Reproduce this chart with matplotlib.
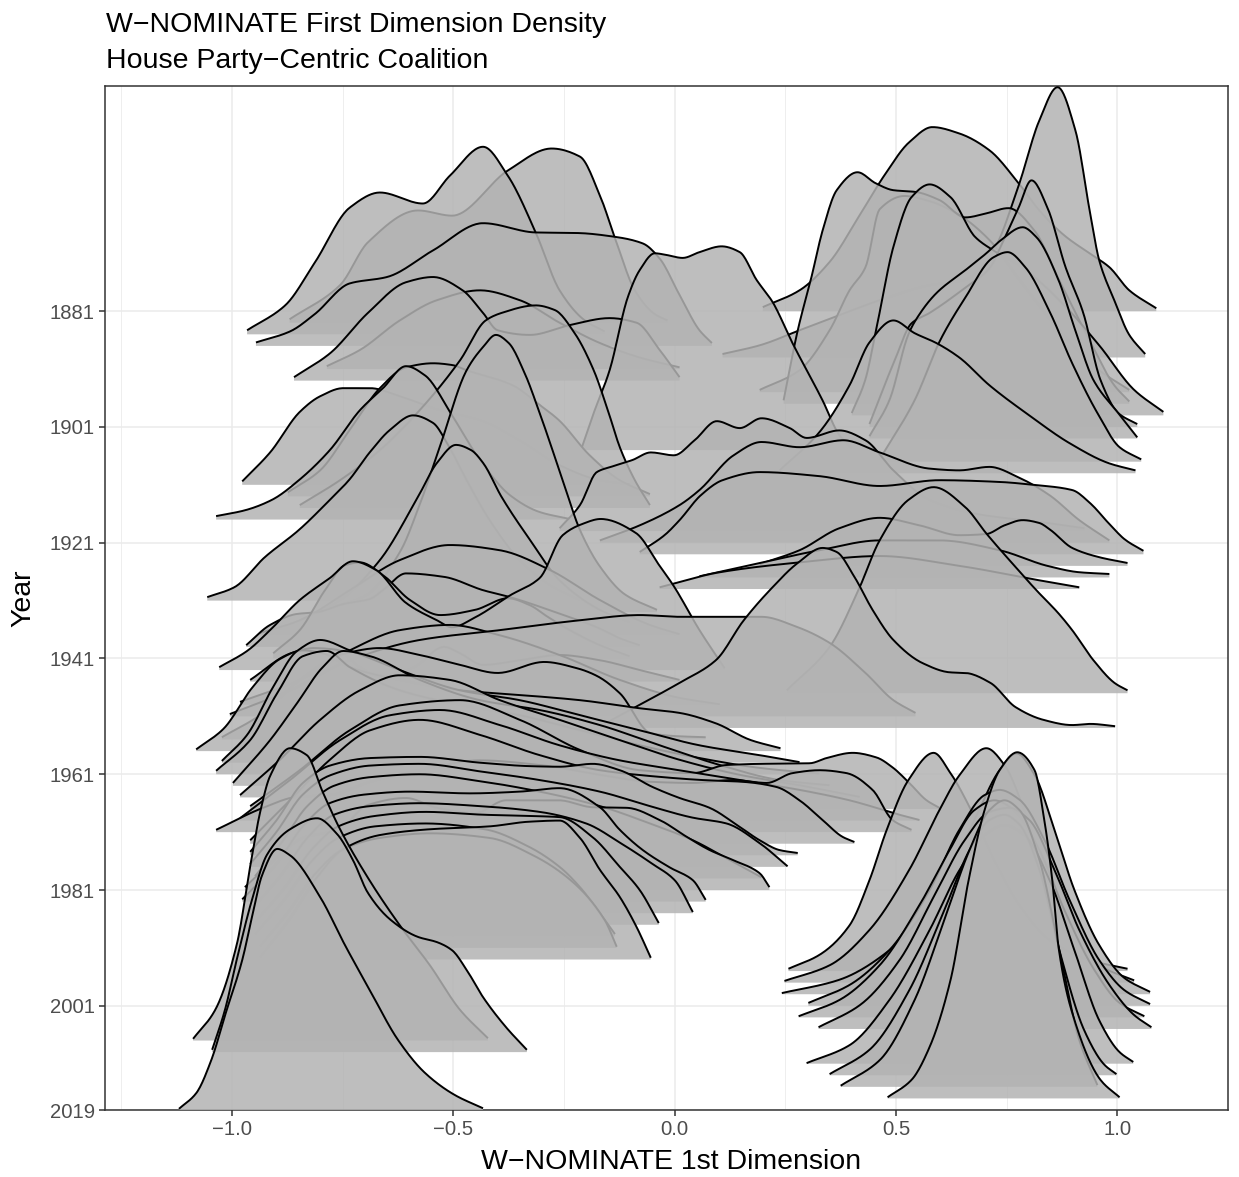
import numpy as np
import matplotlib
matplotlib.use("Agg")
import matplotlib.pyplot as plt

# one ridge per Congress (majority party), baseline = first year of the Congress
years = list(range(1881, 2020, 2))

# ridge outlines: x = W-NOMINATE score, h = height above baseline (years)
x1881 = [0.199, 0.282, 0.350, 0.418, 0.474, 0.530, 0.582, 0.643, 0.711, 0.777, 0.824, 0.880, 0.937, 0.982, 1.027, 1.088]
h1881 = [0.7, 3.6, 8.5, 16.6, 23.5, 29.2, 31.8, 30.7, 27.8, 22.1, 17.4, 13.1, 10.0, 7.6, 3.6, 0.5]
x1883 = [-0.870, -0.756, -0.693, -0.580, -0.503, -0.377, -0.278, -0.214, -0.169, -0.133, -0.090, -0.045, -0.016]
h1883 = [0.6, 6.5, 13.9, 19.4, 18.5, 26.3, 30.1, 28.7, 22.0, 14.2, 5.6, 1.5, 0.4]
x1885 = [-0.966, -0.880, -0.813, -0.734, -0.666, -0.569, -0.508, -0.433, -0.377, -0.314, -0.260, -0.203, -0.158]
h1885 = [0.7, 5.0, 12.4, 21.9, 24.5, 22.6, 27.4, 32.4, 27.4, 17.6, 7.6, 2.4, 0.5]
x1887 = [-0.946, -0.869, -0.813, -0.734, -0.650, -0.546, -0.433, -0.314, -0.219, -0.140, -0.072, -0.034, 0.011, 0.056, 0.084]
h1887 = [0.6, 2.5, 5.5, 10.8, 11.9, 16.5, 21.2, 19.6, 19.5, 18.9, 17.7, 15.1, 8.8, 2.7, 0.5]
x1889 = [0.108, 0.192, 0.282, 0.372, 0.463, 0.576, 0.655, 0.720, 0.777, 0.824, 0.865, 0.905, 0.939, 0.959, 0.993, 1.027, 1.063]
h1889 = [0.6, 2.1, 4.7, 7.3, 9.9, 12.5, 13.4, 18.5, 29.7, 41.0, 46.7, 39.3, 24.7, 16.8, 9.9, 3.9, 0.6]
x1891 = [-0.786, -0.711, -0.621, -0.537, -0.440, -0.350, -0.260, -0.169, -0.079, 0.011]
h1891 = [0.5, 3.3, 8.4, 11.9, 13.6, 11.9, 8.0, 4.5, 2.0, 0.3]
x1893 = [-0.860, -0.779, -0.693, -0.607, -0.546, -0.479, -0.433, -0.400, -0.327, -0.237, -0.147, -0.086, -0.034, 0.011]
h1893 = [0.6, 4.7, 11.7, 17.0, 17.9, 15.6, 11.7, 8.7, 7.9, 9.6, 10.8, 10.0, 5.3, 0.6]
x1895 = [0.192, 0.282, 0.350, 0.395, 0.431, 0.463, 0.519, 0.576, 0.643, 0.711, 0.779, 0.869, 0.959, 1.027]
h1895 = [0.4, 3.8, 10.7, 17.6, 21.6, 31.6, 33.9, 33.0, 30.6, 26.3, 19.4, 10.7, 3.8, 0.4]
x1897 = [0.246, 0.278, 0.309, 0.334, 0.366, 0.413, 0.454, 0.494, 0.544, 0.598, 0.657, 0.704, 0.754, 0.813, 0.869, 0.937, 0.993, 1.027]
h1897 = [0.6, 12.7, 21.9, 29.9, 36.9, 40.0, 38.1, 36.9, 36.6, 35.2, 32.2, 32.9, 33.8, 29.9, 21.3, 11.0, 3.2, 0.4]
x1899 = [0.400, 0.430, 0.458, 0.494, 0.535, 0.576, 0.623, 0.679, 0.720, 0.779, 0.869, 0.959, 1.038, 1.104]
h1899 = [0.4, 6.0, 15.9, 29.1, 37.7, 39.9, 37.7, 30.8, 28.5, 25.9, 19.9, 12.1, 4.4, 0.6]
x1901 = [0.440, 0.497, 0.535, 0.576, 0.657, 0.713, 0.736, 0.777, 0.806, 0.842, 0.883, 0.923, 0.962, 1.002, 1.045]
h1901 = [0.5, 11.5, 17.9, 19.7, 24.1, 27.6, 31.1, 37.9, 42.6, 37.9, 27.6, 19.7, 8.1, 2.4, 0.5]
x1903 = [0.440, 0.485, 0.528, 0.544, 0.591, 0.657, 0.704, 0.736, 0.786, 0.817, 0.867, 0.905, 0.946, 1.002, 1.045]
h1903 = [0.4, 6.6, 18.0, 20.4, 25.1, 29.1, 32.0, 34.2, 36.5, 34.8, 27.4, 18.7, 10.1, 4.4, 0.2]
x1905 = [-0.210, -0.183, -0.147, -0.106, -0.079, -0.045, -0.018, 0.018, 0.056, 0.106, 0.147, 0.185, 0.221, 0.266, 0.334, 0.372, 0.400]
h1905 = [0.4, 6.4, 13.8, 26.4, 31.1, 34.0, 33.7, 33.2, 34.2, 35.2, 34.2, 29.4, 25.6, 18.5, 8.6, 2.6, 0.4]
x1907 = [0.463, 0.542, 0.600, 0.657, 0.720, 0.752, 0.792, 0.849, 0.898, 0.955, 1.005, 1.054]
h1907 = [0.4, 10.6, 21.0, 28.4, 35.3, 36.2, 33.6, 25.6, 17.0, 8.4, 2.5, 0.4]
x1909 = [0.237, 0.327, 0.395, 0.440, 0.494, 0.542, 0.591, 0.643, 0.711, 0.801, 0.892, 0.982, 1.041]
h1909 = [0.5, 7.1, 15.2, 22.6, 26.4, 24.2, 22.5, 20.0, 15.2, 10.0, 5.2, 1.7, 0.5]
x1911 = [-0.977, -0.914, -0.847, -0.801, -0.749, -0.688, -0.621, -0.530, -0.440, -0.350, -0.260, -0.169, -0.102]
h1911 = [0.6, 5.6, 12.6, 15.3, 16.7, 16.7, 15.3, 12.9, 11.2, 7.7, 3.4, 0.8, 0.1]
x1913 = [-0.874, -0.801, -0.734, -0.666, -0.607, -0.546, -0.503, -0.470, -0.366, -0.305, -0.262, -0.192, -0.124, -0.056]
h1913 = [0.7, 4.5, 11.5, 18.7, 22.3, 23.0, 22.7, 21.8, 19.2, 15.8, 13.2, 7.1, 2.8, 0.4]
x1915 = [-0.847, -0.756, -0.666, -0.576, -0.485, -0.427, -0.391, -0.314, -0.271, -0.226, -0.183, -0.149, -0.124, -0.090, -0.056]
h1915 = [0.5, 4.8, 10.0, 16.9, 25.5, 32.4, 33.7, 35.0, 34.2, 30.2, 23.8, 16.4, 10.5, 4.8, 0.5]
x1917 = [-1.036, -0.971, -0.910, -0.849, -0.779, -0.711, -0.659, -0.607, -0.564, -0.503, -0.440, -0.372, -0.305, -0.237]
h1917 = [0.6, 1.6, 3.4, 6.8, 12.0, 18.9, 22.7, 26.5, 24.9, 18.0, 10.3, 4.2, 1.3, 0.1]
x1919 = [-0.260, -0.214, -0.176, -0.140, -0.095, -0.054, -0.002, 0.045, 0.095, 0.147, 0.196, 0.260, 0.298, 0.372, 0.431, 0.494, 0.576, 0.688, 0.824, 0.926]
h1919 = [0.5, 4.5, 10.2, 11.2, 12.3, 13.6, 13.1, 15.7, 19.0, 17.8, 19.5, 17.8, 16.1, 17.4, 15.7, 10.5, 5.4, 2.9, 1.6, 0.5]
x1921 = [-0.169, -0.079, 0.011, 0.056, 0.133, 0.196, 0.282, 0.381, 0.463, 0.576, 0.643, 0.711, 0.779, 0.847, 0.914, 0.982]
h1921 = [0.4, 3.0, 6.5, 9.1, 15.1, 17.4, 16.5, 17.7, 15.6, 12.8, 12.5, 13.1, 11.2, 8.2, 3.9, 0.4]
x1923 = [-0.079, -0.023, 0.011, 0.059, 0.108, 0.192, 0.327, 0.463, 0.598, 0.734, 0.810, 0.898, 0.939, 0.980, 1.018, 1.059]
h1923 = [0.4, 3.3, 5.9, 10.2, 12.8, 14.2, 13.5, 11.8, 12.8, 12.5, 12.0, 11.1, 8.8, 5.4, 2.5, 0.6]
x1925 = [0.192, 0.282, 0.372, 0.463, 0.553, 0.643, 0.704, 0.745, 0.786, 0.824, 0.849, 0.898, 0.959, 1.023]
h1925 = [0.3, 2.7, 6.5, 8.3, 7.0, 5.3, 5.5, 7.0, 7.9, 7.4, 6.2, 3.1, 1.5, 0.5]
x1927 = [0.056, 0.192, 0.327, 0.463, 0.598, 0.734, 0.842, 0.914, 0.982]
h1927 = [0.2, 2.5, 4.7, 6.4, 6.4, 4.7, 2.0, 0.9, 0.6]
x1929 = [-0.034, 0.102, 0.282, 0.463, 0.643, 0.824, 0.914]
h1929 = [0.3, 2.9, 4.6, 5.7, 4.0, 1.5, 0.3]
x1931 = [-1.056, -0.995, -0.926, -0.849, -0.779, -0.736, -0.688, -0.643, -0.591, -0.546, -0.512, -0.470, -0.418, -0.350, -0.282, -0.214]
h1931 = [0.6, 2.3, 7.5, 12.2, 17.4, 20.8, 25.7, 29.5, 32.0, 30.7, 26.9, 20.8, 13.9, 7.0, 2.7, 0.1]
x1933 = [-0.800, -0.700, -0.620, -0.576, -0.530, -0.470, -0.433, -0.404, -0.375, -0.339, -0.305, -0.253, -0.214, -0.169, -0.113, -0.040]
h1933 = [0.4, 2.8, 10.5, 18.6, 28.7, 41.8, 45.8, 47.9, 46.5, 41.3, 34.4, 22.8, 14.2, 7.9, 3.1, 0.4]
x1935 = [-0.847, -0.756, -0.666, -0.580, -0.537, -0.494, -0.460, -0.433, -0.391, -0.327, -0.260, -0.169, -0.102]
h1935 = [0.6, 4.1, 11.0, 21.9, 27.8, 30.9, 30.0, 27.8, 21.9, 14.5, 7.5, 2.4, 0.3]
x1937 = [-0.937, -0.847, -0.734, -0.621, -0.508, -0.395, -0.282, -0.169, -0.056, 0.011]
h1937 = [0.4, 2.6, 7.8, 13.0, 15.6, 14.7, 11.3, 6.1, 1.8, 0.2]
x1939 = [-0.968, -0.914, -0.853, -0.808, -0.749, -0.688, -0.659, -0.607, -0.521, -0.433, -0.372, -0.262, -0.176, -0.124, -0.079]
h1939 = [0.3, 3.8, 5.7, 6.0, 7.4, 8.3, 9.8, 12.7, 12.1, 9.8, 8.6, 5.8, 3.4, 1.5, 0.3]
x1941 = [-0.907, -0.847, -0.790, -0.745, -0.711, -0.659, -0.598, -0.530, -0.451, -0.377, -0.327, -0.287, -0.237, -0.169, -0.102]
h1941 = [0.9, 4.9, 11.8, 16.1, 16.6, 14.4, 10.1, 7.5, 8.4, 10.4, 9.2, 7.2, 4.9, 2.3, 0.4]
x1943 = [-1.029, -0.966, -0.914, -0.847, -0.779, -0.727, -0.675, -0.607, -0.537, -0.503, -0.451, -0.372, -0.305, -0.253, -0.210, -0.167, -0.088, -0.034, -0.002, 0.056, 0.113]
h1943 = [0.5, 3.3, 6.9, 12.1, 15.9, 18.8, 17.3, 11.6, 8.6, 7.4, 9.1, 12.9, 15.9, 23.3, 25.2, 26.1, 23.7, 18.0, 14.5, 6.9, 0.3]
x1945 = [-0.959, -0.867, -0.815, -0.763, -0.711, -0.659, -0.589, -0.521, -0.485, -0.433, -0.350, -0.260, -0.169, -0.079, 0.011]
h1945 = [0.3, 4.9, 5.8, 5.5, 2.5, 0.8, 2.5, 6.0, 4.9, 2.9, 3.7, 4.6, 3.7, 2.0, 0.3]
x1947 = [0.253, 0.350, 0.415, 0.463, 0.528, 0.585, 0.657, 0.704, 0.770, 0.817, 0.867, 0.898, 0.946, 0.995, 1.023]
h1947 = [0.5, 8.0, 17.8, 26.4, 33.4, 35.6, 32.1, 27.6, 21.8, 17.8, 13.8, 10.9, 5.7, 1.7, 0.5]
x1949 = [-0.982, -0.847, -0.734, -0.621, -0.508, -0.395, -0.260, -0.124, 0.011, 0.102]
h1949 = [0.5, 4.3, 9.4, 12.9, 13.8, 12.0, 8.6, 4.3, 1.2, 0.1]
x1951 = [-1.005, -0.869, -0.734, -0.576, -0.395, -0.214, -0.079, 0.011, 0.196, 0.278, 0.350, 0.431, 0.494, 0.544]
h1951 = [0.4, 4.5, 9.7, 13.2, 14.9, 16.6, 17.5, 17.2, 17.2, 15.4, 12.7, 7.5, 2.8, 0.6]
x1953 = [-0.169, -0.079, 0.011, 0.093, 0.156, 0.221, 0.278, 0.334, 0.366, 0.406, 0.447, 0.494, 0.560, 0.623, 0.657, 0.713, 0.770, 0.833, 0.898, 0.939, 0.995]
h1953 = [0.3, 4.0, 7.8, 11.7, 18.6, 24.3, 28.5, 31.1, 30.4, 26.1, 20.4, 15.2, 11.2, 9.6, 9.5, 7.8, 3.6, 1.4, 0.5, 0.7, 0.3]
x1955 = [-1.023, -0.937, -0.847, -0.756, -0.666, -0.576, -0.485, -0.400, -0.295, -0.220, -0.176, -0.124, -0.054, 0.000, 0.070]
h1955 = [0.4, 4.2, 10.3, 14.6, 15.8, 14.6, 12.9, 11.5, 13.4, 12.3, 11.0, 8.0, 1.1, 0.6, 0.4]
x1957 = [-1.081, -1.020, -0.953, -0.892, -0.840, -0.795, -0.734, -0.621, -0.485, -0.350, -0.214, -0.079, 0.011, 0.093, 0.172, 0.239]
h1957 = [0.3, 3.8, 11.1, 15.9, 17.4, 16.9, 14.5, 12.3, 10.5, 9.7, 8.8, 7.4, 6.6, 4.8, 1.9, 0.5]
x1959 = [-1.023, -0.966, -0.907, -0.853, -0.801, -0.734, -0.621, -0.485, -0.350, -0.214, -0.079, 0.056, 0.192, 0.282]
h1959 = [0.3, 4.8, 13.1, 19.3, 21.2, 19.4, 16.0, 12.5, 10.8, 8.2, 5.6, 3.0, 1.3, 0.1]
x1961 = [-1.036, -0.959, -0.898, -0.840, -0.786, -0.734, -0.621, -0.485, -0.350, -0.214, -0.079, 0.056, 0.192, 0.327]
h1961 = [0.6, 5.9, 14.0, 20.4, 21.3, 18.5, 14.5, 12.0, 10.2, 7.6, 5.0, 2.8, 1.1, 0.1]
x1963 = [-0.998, -0.914, -0.853, -0.795, -0.749, -0.688, -0.576, -0.440, -0.305, -0.169, -0.034, 0.102, 0.237, 0.350]
h1963 = [0.5, 7.9, 14.3, 20.5, 23.3, 22.4, 18.3, 14.8, 13.1, 10.5, 7.0, 3.6, 1.0, 0.1]
x1965 = [-0.982, -0.892, -0.801, -0.711, -0.621, -0.508, -0.395, -0.260, -0.124, 0.011, 0.147, 0.282, 0.418]
h1965 = [0.4, 6.5, 13.4, 18.5, 21.1, 20.3, 16.8, 13.4, 9.9, 6.5, 3.9, 2.1, 0.1]
x1967 = [-0.959, -0.847, -0.734, -0.621, -0.485, -0.350, -0.214, -0.079, 0.041, 0.117, 0.192, 0.305, 0.343, 0.402, 0.456, 0.492, 0.530, 0.569, 0.598]
h1967 = [0.5, 6.7, 13.6, 17.9, 18.8, 15.4, 10.2, 6.7, 6.2, 7.6, 7.8, 7.9, 8.8, 9.7, 8.9, 7.2, 4.5, 1.5, 0.2]
x1969 = [-0.982, -0.869, -0.756, -0.643, -0.530, -0.395, -0.260, -0.124, 0.011, 0.147, 0.282, 0.395, 0.508, 0.553]
h1969 = [0.4, 7.0, 13.9, 18.2, 19.1, 16.5, 13.0, 10.4, 8.7, 7.0, 5.3, 3.5, 1.0, 0.1]
x1971 = [-1.036, -0.930, -0.853, -0.779, -0.688, -0.576, -0.440, -0.305, -0.169, -0.056, 0.041, 0.131, 0.208, 0.266, 0.327, 0.388, 0.447, 0.492, 0.535]
h1971 = [0.4, 4.2, 6.1, 6.4, 8.7, 10.7, 12.4, 11.6, 9.9, 8.7, 8.5, 9.0, 8.5, 10.2, 10.7, 10.2, 7.3, 2.1, 0.4]
x1973 = [-0.959, -0.869, -0.779, -0.688, -0.576, -0.440, -0.305, -0.169, -0.056, 0.063, 0.153, 0.230, 0.282, 0.334, 0.379, 0.406]
h1973 = [0.6, 7.5, 14.5, 19.6, 21.4, 18.8, 15.3, 12.7, 11.7, 11.0, 10.7, 9.8, 7.5, 4.1, 1.2, 0.3]
x1975 = [-0.959, -0.900, -0.840, -0.779, -0.688, -0.576, -0.440, -0.327, -0.260, -0.185, -0.124, -0.050, 0.011, 0.079, 0.147, 0.192, 0.237, 0.278]
h1975 = [0.6, 6.0, 12.5, 15.5, 16.8, 17.0, 16.0, 15.4, 15.3, 15.8, 14.7, 11.8, 9.9, 8.2, 4.9, 2.6, 0.9, 0.4]
x1977 = [-0.959, -0.900, -0.840, -0.779, -0.688, -0.576, -0.440, -0.305, -0.169, -0.056, 0.041, 0.117, 0.192, 0.255]
h1977 = [0.5, 6.0, 12.5, 15.8, 17.5, 17.8, 16.5, 15.0, 13.0, 10.5, 8.5, 7.5, 4.1, 0.1]
x1979 = [-0.948, -0.890, -0.830, -0.770, -0.688, -0.576, -0.440, -0.305, -0.169, -0.056, 0.041, 0.117, 0.196]
h1979 = [0.4, 6.0, 12.5, 16.0, 17.5, 18.0, 16.8, 15.0, 12.5, 9.5, 6.6, 3.5, 0.2]
x1981 = [-0.971, -0.900, -0.840, -0.760, -0.693, -0.607, -0.537, -0.451, -0.381, -0.262, -0.185, -0.108, -0.034, 0.027, 0.079, 0.131, 0.192, 0.214]
h1981 = [0.5, 5.5, 9.0, 10.4, 14.7, 15.9, 14.2, 13.3, 15.5, 15.5, 14.3, 14.2, 12.1, 9.2, 6.9, 5.2, 2.9, 0.5]
x1983 = [-0.977, -0.900, -0.840, -0.780, -0.700, -0.598, -0.463, -0.350, -0.260, -0.169, -0.124, -0.072, -0.011, 0.041, 0.070]
h1983 = [0.4, 6.5, 13.0, 17.0, 18.5, 19.0, 18.7, 19.0, 19.6, 16.3, 12.4, 8.9, 5.9, 3.7, 0.3]
x1985 = [-0.959, -0.890, -0.830, -0.770, -0.688, -0.576, -0.440, -0.305, -0.200, -0.120, -0.050, 0.000, 0.041]
h1985 = [0.4, 6.5, 13.0, 17.0, 18.5, 19.0, 18.5, 17.5, 15.5, 12.0, 8.5, 5.7, 0.2]
x1987 = [-0.948, -0.880, -0.820, -0.760, -0.677, -0.564, -0.429, -0.330, -0.260, -0.185, -0.124, -0.079, -0.036]
h1987 = [0.5, 6.5, 13.0, 17.0, 18.8, 19.5, 19.0, 18.8, 18.6, 15.1, 10.0, 6.0, 0.3]
x1989 = [-0.948, -0.880, -0.820, -0.760, -0.677, -0.564, -0.429, -0.330, -0.260, -0.214, -0.169, -0.135]
h1989 = [0.4, 6.5, 13.0, 17.0, 19.0, 19.5, 18.5, 15.5, 12.0, 8.5, 4.0, 0.4]
x1991 = [-0.937, -0.870, -0.810, -0.750, -0.666, -0.553, -0.418, -0.320, -0.235, -0.158, -0.131]
h1991 = [0.3, 6.5, 13.0, 17.0, 19.0, 19.8, 19.0, 16.0, 11.7, 4.8, 0.2]
x1993 = [-0.937, -0.870, -0.810, -0.750, -0.666, -0.553, -0.418, -0.330, -0.260, -0.214, -0.169, -0.124, -0.086, -0.054]
h1993 = [0.4, 7.0, 14.0, 19.0, 21.5, 22.5, 23.0, 23.8, 24.0, 21.0, 15.5, 10.8, 5.6, 0.3]
x1995 = [0.257, 0.327, 0.395, 0.440, 0.479, 0.528, 0.585, 0.623, 0.673, 0.722, 0.779, 0.847, 0.937, 1.023]
h1995 = [0.4, 2.8, 7.9, 15.7, 24.4, 33.0, 37.7, 34.2, 27.3, 19.2, 11.4, 5.4, 1.9, 0.4]
x1997 = [0.248, 0.350, 0.440, 0.530, 0.598, 0.643, 0.704, 0.745, 0.790, 0.835, 0.892, 0.959, 1.038]
h1997 = [0.3, 3.0, 9.1, 19.5, 29.8, 35.8, 40.5, 37.6, 29.8, 19.5, 9.1, 3.0, 0.4]
x1999 = [0.242, 0.372, 0.485, 0.598, 0.677, 0.734, 0.772, 0.813, 0.858, 0.903, 0.959, 1.016, 1.074]
h1999 = [0.2, 2.5, 7.6, 18.0, 30.1, 38.7, 41.6, 37.9, 28.4, 18.0, 8.5, 2.8, 0.4]
x2001 = [0.302, 0.395, 0.485, 0.576, 0.643, 0.700, 0.734, 0.779, 0.835, 0.892, 0.959, 1.016, 1.074]
h2001 = [0.5, 3.6, 9.6, 20.0, 30.4, 36.4, 37.3, 35.6, 28.7, 18.3, 7.9, 2.7, 0.3]
x2003 = [0.280, 0.372, 0.463, 0.553, 0.621, 0.677, 0.722, 0.767, 0.824, 0.880, 0.948, 1.005, 1.061]
h2003 = [0.2, 3.0, 9.0, 19.4, 28.9, 35.8, 37.5, 35.8, 28.9, 18.6, 8.2, 2.5, 0.2]
x2005 = [0.325, 0.418, 0.508, 0.587, 0.655, 0.711, 0.756, 0.801, 0.858, 0.914, 0.982, 1.038, 1.077]
h2005 = [0.3, 4.1, 11.9, 23.1, 32.6, 37.5, 38.2, 36.1, 27.5, 17.1, 7.6, 2.4, 0.3]
x2007 = [-1.088, -1.038, -0.989, -0.959, -0.937, -0.914, -0.869, -0.831, -0.795, -0.756, -0.688, -0.621, -0.553, -0.485, -0.422]
h2007 = [0.3, 5.3, 16.7, 30.1, 39.3, 45.7, 50.5, 49.3, 42.9, 36.5, 27.5, 19.9, 13.0, 5.3, 0.4]
x2009 = [-1.045, -1.016, -0.989, -0.955, -0.921, -0.869, -0.808, -0.763, -0.727, -0.693, -0.641, -0.580, -0.537, -0.503, -0.470, -0.433, -0.381, -0.334]
h2009 = [0.4, 7.3, 16.1, 26.3, 34.1, 38.5, 40.4, 37.7, 33.2, 27.5, 22.8, 19.9, 19.0, 17.6, 14.2, 9.5, 4.3, 0.4]
x2011 = [0.298, 0.395, 0.485, 0.576, 0.643, 0.700, 0.745, 0.790, 0.847, 0.903, 0.959, 1.005, 1.036]
h2011 = [0.1, 3.2, 11.0, 23.1, 33.4, 39.5, 41.2, 39.5, 31.7, 19.6, 7.5, 2.0, 0.3]
x2013 = [0.350, 0.440, 0.530, 0.609, 0.666, 0.711, 0.745, 0.779, 0.824, 0.869, 0.925, 0.971, 0.998]
h2013 = [0.2, 4.4, 14.7, 28.5, 38.9, 44.1, 45.0, 43.3, 35.5, 21.6, 7.8, 1.8, 0.2]
x2015 = [0.375, 0.463, 0.542, 0.609, 0.666, 0.711, 0.745, 0.779, 0.824, 0.869, 0.914, 0.955]
h2015 = [0.2, 4.6, 15.0, 28.8, 40.9, 47.8, 49.5, 47.8, 39.2, 23.6, 8.1, 0.3]
x2017 = [0.481, 0.535, 0.576, 0.623, 0.664, 0.700, 0.734, 0.774, 0.813, 0.835, 0.853, 0.867, 0.898, 0.962, 1.005]
h2017 = [0.2, 3.2, 8.9, 20.4, 37.7, 49.8, 56.7, 59.8, 56.7, 48.1, 37.7, 26.2, 14.8, 3.2, 0.2]
x2019 = [-1.120, -1.081, -1.047, -1.014, -0.977, -0.953, -0.932, -0.898, -0.869, -0.801, -0.745, -0.688, -0.625, -0.564, -0.497, -0.433]
h2019 = [0.2, 2.9, 8.6, 16.8, 25.9, 34.0, 40.6, 45.1, 44.0, 36.8, 28.5, 20.6, 12.1, 6.4, 2.6, 0.3]

ridge_x = [x1881, x1883, x1885, x1887, x1889, x1891, x1893, x1895, x1897, x1899,
           x1901, x1903, x1905, x1907, x1909, x1911, x1913, x1915, x1917, x1919,
           x1921, x1923, x1925, x1927, x1929, x1931, x1933, x1935, x1937, x1939,
           x1941, x1943, x1945, x1947, x1949, x1951, x1953, x1955, x1957, x1959,
           x1961, x1963, x1965, x1967, x1969, x1971, x1973, x1975, x1977, x1979,
           x1981, x1983, x1985, x1987, x1989, x1991, x1993, x1995, x1997, x1999,
           x2001, x2003, x2005, x2007, x2009, x2011, x2013, x2015, x2017, x2019]
ridge_h = [h1881, h1883, h1885, h1887, h1889, h1891, h1893, h1895, h1897, h1899,
           h1901, h1903, h1905, h1907, h1909, h1911, h1913, h1915, h1917, h1919,
           h1921, h1923, h1925, h1927, h1929, h1931, h1933, h1935, h1937, h1939,
           h1941, h1943, h1945, h1947, h1949, h1951, h1953, h1955, h1957, h1959,
           h1961, h1963, h1965, h1967, h1969, h1971, h1973, h1975, h1977, h1979,
           h1981, h1983, h1985, h1987, h1989, h1991, h1993, h1995, h1997, h1999,
           h2001, h2003, h2005, h2007, h2009, h2011, h2013, h2015, h2017, h2019]

year_ticks = [1881, 1901, 1921, 1941, 1961, 1981, 2001, 2019]
x_ticks = [-1.0, -0.5, 0.0, 0.5, 1.0]
x_minor = [-1.25, -0.75, -0.25, 0.25, 0.75, 1.25]


def smooth(x, y, n=260):
    # monotone cubic (pchip) through the read points
    x = np.asarray(x, float)
    y = np.asarray(y, float)
    hk = np.diff(x)
    dk = np.diff(y) / hk
    m = np.zeros_like(y)
    for k in range(1, len(x) - 1):
        if dk[k - 1] * dk[k] > 0:
            w1 = 2 * hk[k] + hk[k - 1]
            w2 = hk[k] + 2 * hk[k - 1]
            m[k] = (w1 + w2) / (w1 / dk[k - 1] + w2 / dk[k])
    m[0] = dk[0]
    m[-1] = dk[-1]
    xx = np.linspace(x[0], x[-1], n)
    i = np.clip(np.searchsorted(x, xx) - 1, 0, len(x) - 2)
    t = (xx - x[i]) / hk[i]
    yy = ((2 * t**3 - 3 * t**2 + 1) * y[i] + (t**3 - 2 * t**2 + t) * hk[i] * m[i]
          + (-2 * t**3 + 3 * t**2) * y[i + 1] + (t**3 - t**2) * hk[i] * m[i + 1])
    return xx, np.maximum(yy, 0)


plt.rcParams['font.family'] = ['Liberation Sans', 'DejaVu Sans']

fig = plt.figure(figsize=(12.39, 11.77), dpi=100)
ax = fig.add_axes([105 / 1239, 1 - 1110 / 1177, 1123 / 1239, 1024 / 1177])

for i, (yr, xs, hs) in enumerate(zip(years, ridge_x, ridge_h)):
    xx, hh = smooth(xs, hs)
    ax.fill_between(xx, yr, yr - hh, facecolor='#b3b3b3', alpha=0.85, lw=0, zorder=2 + 2 * i)
    ax.plot(xx, yr - hh, color='black', lw=1.4, zorder=3 + 2 * i, solid_capstyle='butt')

ax.set_xlim(-1.287, 1.248)
ax.set_ylim(2019, 1842.1)
ax.set_xticks(x_ticks)
ax.set_xticklabels([f"{v:.1f}".replace('-', '\u2212') for v in x_ticks])
ax.set_xticks(x_minor, minor=True)
ax.set_yticks(year_ticks)
ax.set_yticklabels([str(v) for v in year_ticks])

ax.set_axisbelow(True)
ax.grid(True, which='major', color='#ebebeb', lw=1.1, zorder=0)
ax.grid(True, which='minor', axis='x', color='#ebebeb', lw=0.6, zorder=0)
for s in ax.spines.values():
    s.set_color('#333333')
    s.set_linewidth(1.1)
ax.tick_params(which='major', length=4, width=1.1, color='#333333',
               labelsize=14.6, labelcolor='#4d4d4d', pad=3.3)
ax.tick_params(which='minor', length=0)

fig.text(106 / 1239, 1 - 32 / 1177, "W\u2212NOMINATE First Dimension Density",
         fontsize=20.5, ha='left', va='baseline')
fig.text(106 / 1239, 1 - 68.5 / 1177, "House Party\u2212Centric Coalition",
         fontsize=20.5, ha='left', va='baseline')
fig.text(671 / 1239, 1 - 1169 / 1177, "W\u2212NOMINATE 1st Dimension",
         fontsize=20.5, ha='center', va='baseline')
fig.text(23 / 1239, 1 - 598 / 1177, "Year", fontsize=20.5, rotation=90,
         ha='center', va='center')

fig.savefig("out.png", dpi=100)
